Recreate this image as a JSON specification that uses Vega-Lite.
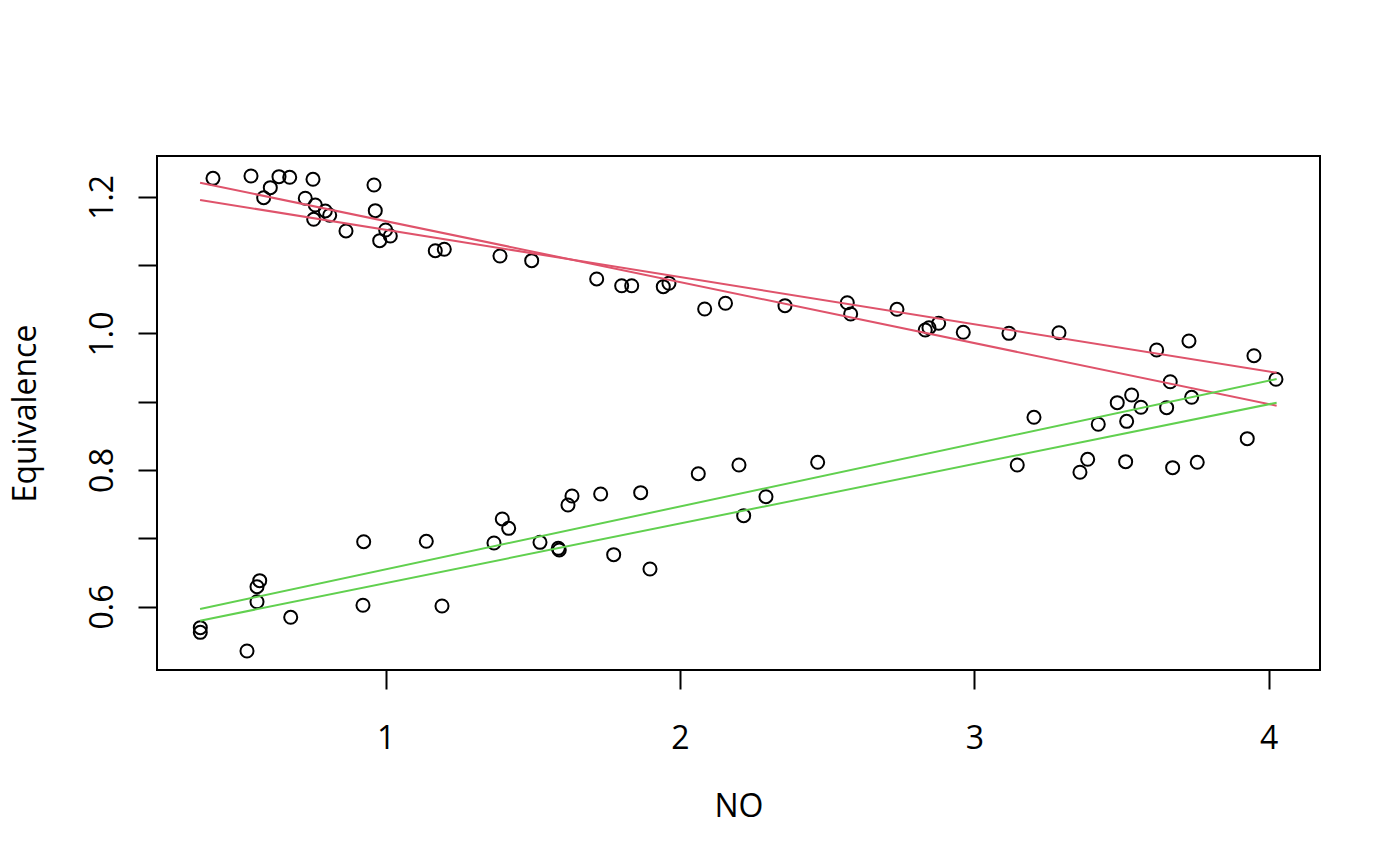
{
  "$schema": "https://vega.github.io/schema/vega-lite/v6.json",
  "width": 1163,
  "height": 514,
  "autosize": "none",
  "padding": {"left": 157, "top": 156, "right": 80, "bottom": 196},
  "background": "white",
  "config": {
    "font": "Open Sans",
    "view": {"stroke": "black", "strokeWidth": 2},
    "axis": {
      "grid": false,
      "domain": false,
      "tickColor": "black",
      "tickWidth": 2,
      "tickSize": 19,
      "labelColor": "black",
      "labelFontSize": 32,
      "labelFlush": false,
      "labelOverlap": false,
      "titleColor": "black",
      "titleFontSize": 32,
      "titleFontWeight": "normal"
    }
  },
  "datasets": {
    "points": [
      {"NO": 0.4139, "E": 1.2272}, {"NO": 0.5430, "E": 1.2306}, {"NO": 0.6086, "E": 1.2135},
      {"NO": 0.5861, "E": 1.1988}, {"NO": 0.6381, "E": 1.2296}, {"NO": 0.6745, "E": 1.2287},
      {"NO": 0.7536, "E": 1.2258}, {"NO": 0.7274, "E": 1.1980}, {"NO": 0.7614, "E": 1.1881},
      {"NO": 0.7560, "E": 1.1672}, {"NO": 0.7954, "E": 1.1794}, {"NO": 0.8103, "E": 1.1731},
      {"NO": 0.8657, "E": 1.1501}, {"NO": 0.9608, "E": 1.2174}, {"NO": 0.9652, "E": 1.1798},
      {"NO": 1.0005, "E": 1.1515}, {"NO": 0.9802, "E": 1.1359}, {"NO": 1.0162, "E": 1.1427},
      {"NO": 1.1690, "E": 1.1212}, {"NO": 1.1996, "E": 1.1233}, {"NO": 1.3888, "E": 1.1134},
      {"NO": 1.4965, "E": 1.1066}, {"NO": 1.7173, "E": 1.0798}, {"NO": 1.8022, "E": 1.0699},
      {"NO": 1.8362, "E": 1.0699}, {"NO": 1.9435, "E": 1.0685}, {"NO": 1.9628, "E": 1.0735},
      {"NO": 2.0841, "E": 1.0358}, {"NO": 2.1548, "E": 1.0442}, {"NO": 2.3569, "E": 1.0407},
      {"NO": 2.5685, "E": 1.0450}, {"NO": 2.5800, "E": 1.0285}, {"NO": 2.7373, "E": 1.0354},
      {"NO": 2.8334, "E": 1.0051}, {"NO": 2.8460, "E": 1.0084}, {"NO": 2.8790, "E": 1.0149},
      {"NO": 2.9625, "E": 1.0017}, {"NO": 3.1177, "E": 1.0002}, {"NO": 3.2876, "E": 1.0011},
      {"NO": 3.6194, "E": 0.9758}, {"NO": 3.7292, "E": 0.9890}, {"NO": 3.9500, "E": 0.9674},
      {"NO": 4.0247, "E": 0.9329},
      {"NO": 0.3708, "E": 0.5691}, {"NO": 0.3708, "E": 0.5623}, {"NO": 0.5294, "E": 0.5349},
      {"NO": 0.5726, "E": 0.6379}, {"NO": 0.5634, "E": 0.6291}, {"NO": 0.5634, "E": 0.6071},
      {"NO": 0.6779, "E": 0.5843}, {"NO": 0.9258, "E": 0.6950}, {"NO": 0.9234, "E": 0.6019},
      {"NO": 1.1385, "E": 0.6956}, {"NO": 1.1918, "E": 0.6008}, {"NO": 1.3684, "E": 0.6931},
      {"NO": 1.3966, "E": 0.7283}, {"NO": 1.4183, "E": 0.7146}, {"NO": 1.5247, "E": 0.6941},
      {"NO": 1.5868, "E": 0.6853}, {"NO": 1.5902, "E": 0.6829}, {"NO": 1.6334, "E": 0.7619},
      {"NO": 1.6198, "E": 0.7488}, {"NO": 1.7308, "E": 0.7649}, {"NO": 1.7750, "E": 0.6760},
      {"NO": 1.8667, "E": 0.7668}, {"NO": 1.8983, "E": 0.6550}, {"NO": 2.0624, "E": 0.7946},
      {"NO": 2.2006, "E": 0.8073}, {"NO": 2.2166, "E": 0.7331}, {"NO": 2.2923, "E": 0.7609},
      {"NO": 2.4679, "E": 0.8113}, {"NO": 3.1459, "E": 0.8073}, {"NO": 3.2027, "E": 0.8772},
      {"NO": 3.3589, "E": 0.7967}, {"NO": 3.3851, "E": 0.8157}, {"NO": 3.4211, "E": 0.8670},
      {"NO": 3.4856, "E": 0.8986}, {"NO": 3.5141, "E": 0.8122}, {"NO": 3.5175, "E": 0.8713},
      {"NO": 3.5345, "E": 0.9099}, {"NO": 3.5661, "E": 0.8919}, {"NO": 3.6534, "E": 0.8913},
      {"NO": 3.6656, "E": 0.9293}, {"NO": 3.6737, "E": 0.8034}, {"NO": 3.7383, "E": 0.9065},
      {"NO": 3.7573, "E": 0.8113}, {"NO": 3.9272, "E": 0.8459}
    ],
    "fits": [
      {"comp": 1, "fit": "a", "NO": 0.370, "E": 1.2208},
      {"comp": 1, "fit": "a", "NO": 4.027, "E": 0.8942},
      {"comp": 1, "fit": "b", "NO": 0.370, "E": 1.1955},
      {"comp": 1, "fit": "b", "NO": 4.027, "E": 0.9425},
      {"comp": 2, "fit": "a", "NO": 0.370, "E": 0.5964},
      {"comp": 2, "fit": "a", "NO": 4.027, "E": 0.9333},
      {"comp": 2, "fit": "b", "NO": 0.370, "E": 0.5793},
      {"comp": 2, "fit": "b", "NO": 4.027, "E": 0.8986}
    ]
  },
  "encoding": {
    "x": {
      "field": "NO",
      "type": "quantitative",
      "scale": {"domain": [0.2237, 4.1743], "nice": false, "zero": false},
      "axis": {
        "values": [1, 2, 3, 4],
        "format": "d",
        "labelBaseline": "alphabetic",
        "labelPadding": 59,
        "title": "NO",
        "titleX": 581.5,
        "titleY": 146,
        "titleAlign": "center",
        "titleBaseline": "alphabetic"
      }
    },
    "y": {
      "field": "E",
      "type": "quantitative",
      "scale": {"domain": [0.5071, 1.2599], "nice": false, "zero": false},
      "axis": {
        "values": [0.6, 0.7, 0.8, 0.9, 1.0, 1.1, 1.2],
        "format": ".1f",
        "labelExpr": "round(datum.value * 10) % 2 == 0 ? datum.label : ''",
        "labelAngle": -90,
        "labelAlign": "center",
        "labelBaseline": "alphabetic",
        "labelPadding": 26,
        "title": "Equivalence",
        "titleAngle": -90,
        "titleX": -122,
        "titleY": 257,
        "titleAlign": "center",
        "titleBaseline": "alphabetic"
      }
    }
  },
  "layer": [
    {
      "data": {"name": "points"},
      "mark": {
        "type": "point",
        "shape": "circle",
        "filled": false,
        "stroke": "black",
        "strokeWidth": 2,
        "size": 170,
        "opacity": 1
      }
    },
    {
      "data": {"name": "fits"},
      "mark": {"type": "line", "strokeWidth": 2},
      "encoding": {
        "detail": {"field": "fit", "type": "nominal"},
        "color": {
          "field": "comp",
          "type": "nominal",
          "scale": {"domain": [1, 2], "range": ["#DF536B", "#61D04F"]},
          "legend": null
        }
      }
    }
  ]
}
